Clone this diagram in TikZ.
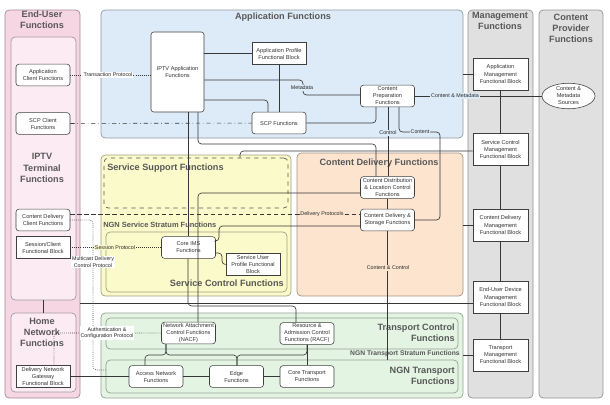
\documentclass[tikz,border=0pt]{standalone}
\usepackage{fontspec}
\setmainfont{Liberation Sans}
\usetikzlibrary{positioning}
\usetikzlibrary{fit}
\usetikzlibrary{shapes.geometric}

\definecolor{pinkout}{RGB}{247,214,227}
\definecolor{pinkin}{RGB}{252,235,242}
\definecolor{bluebg}{RGB}{221,235,248}
\definecolor{yellowbg}{RGB}{250,250,202}
\definecolor{orangebg}{RGB}{252,228,207}
\definecolor{greenbg}{RGB}{227,244,227}
\definecolor{greybg}{RGB}{224,224,224}
\definecolor{titlegrey}{RGB}{88,88,88}
\definecolor{edgegrey}{RGB}{55,55,55}

\newcommand{\boxfont}{\fontsize{4}{5}\selectfont}
\newcommand{\lblfont}{\fontsize{3.8}{4.6}\selectfont}
\newcommand{\titlefont}{\fontsize{6.5}{7.9}\selectfont\bfseries}

\tikzset{
  area/.style={draw=#1!65!black, fill=#1, rounded corners=3pt, inner sep=0pt, line width=0.5pt},
  func/.style={draw=black!75, fill=white, rounded corners=2pt, align=center, font=\boxfont,
               text=black!80, inner sep=0pt, minimum width=1.35cm, minimum height=0.54cm},
  fblock/.style={func, sharp corners},
  mblock/.style={fblock, minimum width=1.375cm, minimum height=0.8cm},
  title/.style={font=\titlefont, text=titlegrey, align=center, inner sep=0pt},
  lbl/.style={font=\lblfont, text=black!85, align=center, inner sep=0.6pt},
  link/.style={draw=edgegrey, line width=0.45pt, rounded corners=2.5pt}
}

\begin{document}
\begin{tikzpicture}[x=0.025cm, y=-0.025cm]
  \useasboundingbox (0,0) rectangle (610,404);

  % functional areas
  \node[area=pinkout, fit={(5,10) (80,398)}] (euf) {};
  \node[area=pinkin, fit={(11,37) (76,300)}] (iptvt) {};
  \node[area=pinkin, fit={(11,313) (76,392)}] (homen) {};
  \node[area=bluebg, fit={(101,10) (463,138)}] (appf) {};
  \node[area=yellowbg, fit={(101,155) (291,296)}] (ssfo) {};
  \node[area=yellowbg, dashed, draw=black!65, fit={(104,158) (288,208)}] (ssf) {};
  \node[area=yellowbg, fit={(106,232) (287,292)}] (scf) {};
  \node[area=orangebg, fit={(297,153) (463,296)}] (cdf) {};
  \node[area=greenbg, fit={(101,313) (463,398)}] (tsf) {};
  \node[area=greenbg, fit={(106,318) (458,349)}] (tcf) {};
  \node[area=greenbg, fit={(106,360) (458,393)}] (ntf) {};
  \node[area=greybg, fit={(468,10) (533,398)}] (mgmt) {};
  \node[area=greybg, fit={(539,10) (603,398)}] (cprov) {};

  % area titles
  \node[title] (teuf) at (42,20) {End-User\\Functions};
  \node[title] (tiptvt) at (42,168) {IPTV\\Terminal\\Functions};
  \node[title] (thomen) at (42,332) {Home\\Network\\Functions};
  \node[title] (tappf) at (283,17) {Application Functions};
  \node[title, anchor=west] (tssf) at (107,168) {Service Support Functions};
  \node[title, anchor=west, font=\fontsize{5.3}{6}\selectfont\bfseries] (tnss) at (103,225) {NGN Service Stratum Functions};
  \node[title, anchor=east] (tscf) at (284,283) {Service Control Functions};
  \node[title] (tcdf) at (379,163) {Content Delivery Functions};
  \node[title, anchor=east, align=right] (ttcf) at (455,333) {Transport Control\\Functions};
  \node[title, anchor=east, font=\fontsize{4.8}{5.5}\selectfont\bfseries] (ttsf) at (460,354) {NGN Transport Stratum Functions};
  \node[title, anchor=east, align=right] (tntf) at (455,375.5) {NGN Transport\\Functions};
  \node[title] (tmgmt) at (500,21) {Management\\Functions};
  \node[title] (tcprov) at (571,28) {Content\\Provider\\Functions};

  % end-user blocks
  \node[func] (acf) at (43,75) {Application\\Client Functions};
  \node[func] (scpc) at (43,123.5) {SCP Client\\Functions};
  \node[func] (cdcf) at (43,220) {Content Delivery\\Client Functions};
  \node[fblock] (scfb) at (43,247.5) {Session/Client\\Functional Block};
  \node[fblock] (dngf) at (43,376.5) {Delivery Network\\Gateway\\Functional Block};

  % application blocks
  \node[func, minimum width=1.325cm, minimum height=2cm] (iptvapp) at (177.5,72) {IPTV Application\\Functions};
  \node[fblock] (apfb) at (279,53.5) {Application Profile\\Functional Block};
  \node[func] (scpf) at (279,123) {SCP Functions};
  \node[func] (cpf) at (387.5,96) {Content\\Preparation\\Functions};

  % service and content delivery blocks
  \node[func] (ims) at (188.5,247.5) {Core IMS\\Functions};
  \node[fblock] (supfb) at (253,264.5) {Service User\\Profile Functional\\Block};
  \node[func] (cdlc) at (387.5,187.5) {Content Distribution\\\& Location Control\\Functions};
  \node[func] (cdsf) at (387.5,220) {Content Delivery \&\\Storage Functions};

  % transport blocks
  \node[func] (nacf) at (188.5,333) {Network Attachment\\Control Functions\\(NACF)};
  \node[func] (racf) at (307,333.5) {Resource \&\\Admission Control\\Functions (RACF)};
  \node[func] (anf) at (156,376.5) {Access Network\\Functions};
  \node[func] (edge) at (236.5,376.5) {Edge\\Functions};
  \node[func] (ctf) at (307,376.5) {Core Transport\\Functions};

  % management and provider blocks
  \node[mblock] (amfb) at (500.5,74) {Application\\Management\\Functional Block};
  \node[mblock] (scmfb) at (500.5,149.5) {Service Control\\Management\\Functional Block};
  \node[mblock] (cdmfb) at (500.5,225) {Content Delivery\\Management\\Functional Block};
  \node[mblock] (eudmfb) at (500.5,297) {End-User Device\\Management\\Functional Block};
  \node[mblock] (tmfb) at (500.5,355) {Transport\\Management\\Functional Block};
  \node[ellipse, draw=black!75, fill=white, font=\boxfont, text=black!80, align=center,
        inner sep=0pt, minimum width=1.325cm, minimum height=0.55cm] (cms) at (568.5,96) {Content \&\\Metadata\\Sources};

  % protocols
  \draw[link, densely dotted] (acf) -- (acf -| iptvapp.west);
  \draw[link, dash dot] (scpc) -- (scpf);
  \draw[link, densely dashed] (cdcf.east |- 0,214) -- (cdsf.west |- 0,214);
  \draw[link, densely dotted] (scfb) -- (ims);
  \draw[link, densely dotted] (cdcf) -| (93,370) -- (ntf.west |- 0,370);
  \draw[link, densely dotted] (54,0 |- dngf.north) |- (nacf.west);

  % application links
  \draw[link] (iptvapp.east |- apfb) -- (apfb);
  \draw[link] (iptvapp.east |- 0,80) -| (303,95) -- (cpf.west |- 0,95);
  \draw[link] (iptvapp.east |- 0,100) -| (268,0 |- scpf.north);
  \draw[link] (apfb) -- (scpf);
  \draw[link] (scpf) -| (376,0 |- cpf.south);
  \draw[link] (cpf) -- (cms);
  \draw[link] (388,0 |- cpf.south) -- (388,0 |- cdlc.north);
  \draw[link] (399,0 |- cpf.south) |- (440,132) |- (cdsf.east);
  \draw[link] (198,0 |- iptvapp.south) |- (376,144) -- (376,0 |- cdlc.north);
  \draw[link] (188,0 |- iptvapp.south) -- (188,0 |- ims.north);

  % service and content links
  \draw[link] (240,0 |- ssf.north) |- (scmfb.west |- 0,151);
  \draw[link] (ims.east |- 0,241) -| (219,226) -- (cdsf.west |- 0,226);
  \draw[link] (ims.east |- 0,253) -| (222,0 |- supfb.west) -- (supfb.west);
  \draw[link] (188,0 |- ims.south) |- (296,306) -- (296,0 |- racf.north);
  \draw[link] (198,0 |- nacf.north) |- (cdlc.west |- 0,193);
  \draw[link] (cdlc) -- (cdsf);
  \draw[link] (cdsf) -- (cdsf |- ntf.north);

  % transport links
  \draw[link] (166,0 |- nacf.south) |- (145,355) -- (145,0 |- anf.north);
  \draw[link] (166,0 |- nacf.south) |- (237,355) -- (237,0 |- edge.north);
  \draw[link] (307,0 |- racf.south) |- (237,355) -- (237,0 |- edge.north);
  \draw[link] (racf) -- (ctf);
  \draw[link] (dngf) -- (anf);
  \draw[link] (anf) -- (edge);
  \draw[link] (edge) -- (ctf);
  \draw[link] (iptvt) -- (homen);

  % management links
  \draw[link] (appf.east |- amfb) -- (amfb);
  \draw[link] (cdf.east |- cdmfb) -- (cdmfb);
  \draw[link] (euf.east |- 0,303) -- (eudmfb.west |- 0,303);
  \draw[link] (tsf.east |- tmfb) -- (tmfb);
  \draw[link] (amfb) -- (scmfb);
  \draw[link] (scmfb) -- (cdmfb);
  \draw[link] (cdmfb) -- (eudmfb);
  \draw[link] (eudmfb) -- (tmfb);

  % link labels
  \node[lbl, fill=white] (ltrans) at (108,75) {Transaction Protocol};
  \node[lbl, fill=bluebg] (lmeta) at (302,88) {Metadata};
  \node[lbl, fill=bluebg] (lcmeta) at (455,96) {Content \& Metadata};
  \node[lbl, fill=bluebg] (lctrl) at (388,133) {Control};
  \node[lbl, fill=bluebg] (lcont) at (420,132) {Content};
  \node[lbl, fill=orangebg] (ldeliv) at (322,214) {Delivery Protocols};
  \node[lbl, fill=yellowbg] (lsess) at (115,247.5) {Session Protocol};
  \node[lbl, fill=white] (lmulti) at (93,262) {Multicast Delivery\\Control Protocol};
  \node[lbl, fill=orangebg] (lcc) at (388,268) {Content \& Control};
  \node[lbl, fill=white] (lauth) at (107,333) {Authentication \&\\Configuration Protocol};
\end{tikzpicture}
\end{document}
